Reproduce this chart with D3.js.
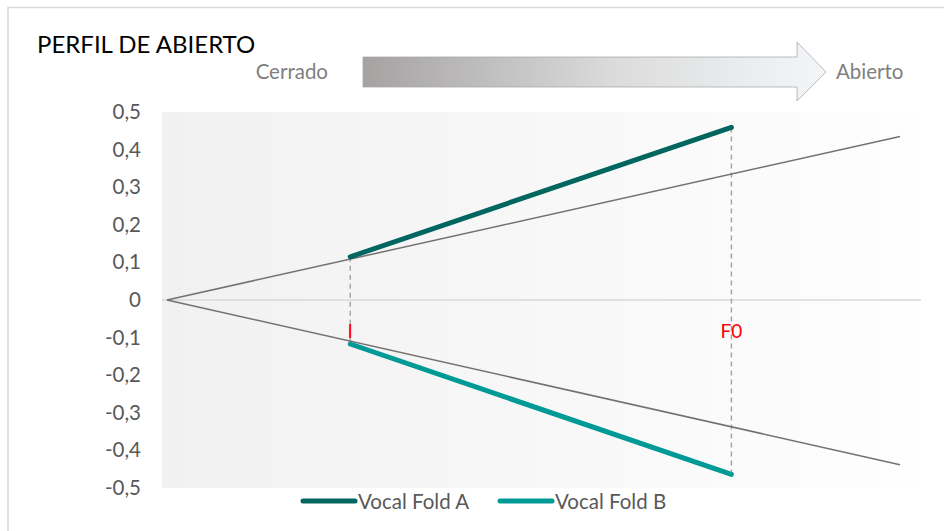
<!DOCTYPE html>
<html>
<head>
<meta charset="utf-8">
<script src="https://cdn.jsdelivr.net/npm/d3@7"></script>
<style>
body { margin: 0; background: #fff; }
text { font-family: Lato, "Open Sans", sans-serif; }
</style>
</head>
<body>
<svg width="944" height="531"></svg>
<script>
// data
var yTicks = [0.5, 0.4, 0.3, 0.2, 0.1, 0, -0.1, -0.2, -0.3, -0.4, -0.5];
var markers = [{name: "I", x: 1}, {name: "F0", x: 3.08}];
var refUpper = [{x: 0, y: 0}, {x: 4, y: 0.435}];
var refLower = [{x: 0, y: 0}, {x: 4, y: -0.438}];
var foldA = [{x: 1, y: 0.115}, {x: 3.08, y: 0.459}];
var foldB = [{x: 1, y: -0.117}, {x: 3.08, y: -0.464}];
var seriesNames = ["Vocal Fold A", "Vocal Fold B"];
var seriesColors = ["#00665f", "#009a96"];

var width = 944, height = 531;
var plot = {left: 162, right: 921, top: 112, bottom: 488};

var svg = d3.select("svg");
var defs = svg.append("defs");

var bg = defs.append("linearGradient").attr("id", "bgGrad");
bg.append("stop").attr("offset", "0%").attr("stop-color", "#f1f1f1");
bg.append("stop").attr("offset", "100%").attr("stop-color", "#fefefe");

var ag = defs.append("linearGradient").attr("id", "arrowGrad");
ag.append("stop").attr("offset", "0%").attr("stop-color", "#a5a2a2");
ag.append("stop").attr("offset", "55%").attr("stop-color", "#dcdcdc");
ag.append("stop").attr("offset", "100%").attr("stop-color", "#f3f6f9");

// outer border
svg.append("rect").attr("x", 8).attr("y", 7.5).attr("width", 960).attr("height", 560)
  .attr("fill", "none").attr("stroke", "#d9d9d9").attr("stroke-width", 1.5);

var x = d3.scaleLinear().domain([0, 4]).range([167, 900]);
var y = d3.scaleLinear().domain([-0.5, 0.5]).range([plot.bottom, plot.top]);

// plot area
svg.append("rect").attr("x", plot.left).attr("y", plot.top)
  .attr("width", plot.right - plot.left).attr("height", plot.bottom - plot.top)
  .attr("fill", "url(#bgGrad)");

// title
svg.append("text").attr("x", 37).attr("y", 53).attr("font-size", 24).attr("fill", "#000")
  .text("PERFIL DE ABIERTO");

// arrow
svg.append("text").attr("x", 328).attr("y", 79).attr("text-anchor", "end")
  .attr("font-size", 20.5).attr("fill", "#7f7f7f").text("Cerrado");
svg.append("path")
  .attr("d", "M363,57 L797,57 L797,42 L826,72 L797,101 L797,87 L363,87 Z")
  .attr("fill", "url(#arrowGrad)").attr("stroke", "#a6a6a6").attr("stroke-width", 0.75);
svg.append("text").attr("x", 836).attr("y", 79)
  .attr("font-size", 20.5).attr("fill", "#7f7f7f").text("Abierto");

// y axis labels
var yAxis = d3.axisLeft(y).tickValues(yTicks).tickSize(0).tickPadding(0)
  .tickFormat(d => d === 0 ? "0" : d3.format(".1f")(d).replace(".", ",").replace("−", "-"));
var ya = svg.append("g").attr("transform", "translate(141,0)").call(yAxis);
ya.select(".domain").remove();
ya.selectAll("text").attr("font-size", 20.5).attr("fill", "#595959")
  .attr("font-family", "Lato, 'Open Sans', sans-serif");

// zero line
svg.append("line").attr("x1", plot.left).attr("x2", plot.right)
  .attr("y1", y(0)).attr("y2", y(0)).attr("stroke", "#d9d9d9").attr("stroke-width", 1.5);

var line = d3.line().x(d => x(d.x)).y(d => y(d.y));

// dashed drop lines
svg.selectAll(".drop").data(markers).join("line").attr("class", "drop")
  .attr("x1", d => x(d.x)).attr("x2", d => x(d.x))
  .attr("y1", (d, i) => y(foldA[i].y)).attr("y2", (d, i) => y(foldB[i].y))
  .attr("stroke", "#a6a6a6").attr("stroke-width", 1.5).attr("stroke-dasharray", "5,4");

// reference lines
[refUpper, refLower].forEach(function(r) {
  svg.append("path").attr("d", line(r)).attr("fill", "none")
    .attr("stroke", "#767171").attr("stroke-width", 1.5);
});

// marker labels
svg.selectAll(".mlab").data(markers).join("text").attr("class", "mlab")
  .attr("x", d => x(d.x)).attr("y", 338).attr("text-anchor", "middle")
  .attr("font-size", 19).attr("fill", "#ff0000").text(d => d.name);

// vocal fold series
[foldA, foldB].forEach(function(s, i) {
  svg.append("path").attr("d", line(s)).attr("fill", "none")
    .attr("stroke", seriesColors[i]).attr("stroke-width", 5).attr("stroke-linecap", "round");
});

// legend
var legX = [303, 500];
var leg = svg.selectAll(".leg").data(seriesNames).join("g").attr("class", "leg")
  .attr("transform", (d, i) => "translate(" + legX[i] + ",501)");
leg.append("line").attr("x1", 0).attr("x2", 52).attr("stroke", (d, i) => seriesColors[i])
  .attr("stroke-width", 5).attr("stroke-linecap", "round");
leg.append("text").attr("x", 55).attr("y", 7.5).attr("font-size", 20.5).attr("fill", "#595959")
  .text(d => d);
</script>
</body>
</html>
